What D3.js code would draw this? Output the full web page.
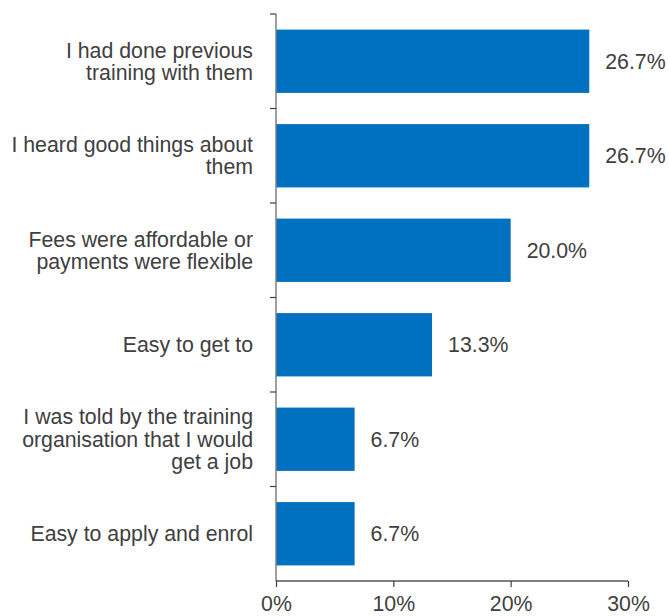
<!DOCTYPE html>
<html>
  <head>
    <meta charset="utf-8">
    <style>
      body { margin: 0; background: #fff; }
      text { font-family: "Liberation Sans", Arial, sans-serif; }
    </style>
  </head>
  <body>
    <div id="chart"></div>
    <script src="https://d3js.org/d3.v7.min.js"></script>
    <script>
      // data
      var categories = [
        ["I had done previous", "training with them"],
        ["I heard good things about", "them"],
        ["Fees were affordable or", "payments were flexible"],
        ["Easy to get to"],
        ["I was told by the training", "organisation that I would", "get a job"],
        ["Easy to apply and enrol"]
      ];
      var values = [26.7, 26.7, 20.0, 13.3, 6.7, 6.7];
      var tickValues = [0, 10, 20, 30];

      var margin = { top: 14, left: 276, right: 41, bottom: 35 };
      var width = 669, height = 616;
      var innerW = 628 - margin.left;
      var innerH = 581 - margin.top;

      var svg = d3.select("#chart").append("svg")
        .attr("width", width)
        .attr("height", height);

      var g = svg.append("g")
        .attr("transform", "translate(" + margin.left + "," + margin.top + ")");

      var x = d3.scaleLinear().domain([0, 30]).range([0, innerW]);
      var y = d3.scaleBand()
        .domain(d3.range(categories.length))
        .range([0, innerH])
        .paddingInner(0.33)
        .paddingOuter(0.165);

      // bars
      g.selectAll(".bar")
        .data(values)
        .enter()
        .append("rect")
          .attr("class", "bar")
          .attr("x", 0)
          .attr("y", function(d, i) { return y(i); })
          .attr("width", function(d) { return x(d); })
          .attr("height", y.bandwidth())
          .style("fill", "#0070C0");

      // value labels
      g.selectAll(".val")
        .data(values)
        .enter()
        .append("text")
          .attr("x", function(d) { return x(d) + 16; })
          .attr("y", function(d, i) { return y(i) + y.bandwidth() / 2; })
          .attr("dy", "0.35em")
          .style("font-size", "21.3px")
          .style("fill", "#404040")
          .text(function(d) { return d.toFixed(1) + "%"; });

      // y axis line + ticks at band edges
      var step = innerH / categories.length;
      g.append("line")
        .attr("x1", 0).attr("x2", 0)
        .attr("y1", 0).attr("y2", innerH)
        .style("stroke", "#7f7f7f")
        .style("stroke-width", 1.5);
      g.selectAll(".ytick")
        .data(d3.range(categories.length))
        .enter()
        .append("line")
          .attr("x1", -6).attr("x2", 0)
          .attr("y1", function(d) { return d * step; })
          .attr("y2", function(d) { return d * step; })
          .style("stroke", "#404040")
          .style("stroke-width", 1.2);

      // category labels
      var lineH = 22.4;
      g.selectAll(".cat")
        .data(categories)
        .enter()
        .append("text")
          .attr("text-anchor", "end")
          .style("font-size", "21.3px")
          .style("fill", "#404040")
          .each(function(lines, i) {
            var cy = y(i) + y.bandwidth() / 2;
            var t = d3.select(this);
            lines.forEach(function(s, k) {
              t.append("tspan")
                .attr("x", -23)
                .attr("y", cy + (k - (lines.length - 1) / 2) * lineH)
                .attr("dy", "0.35em")
                .text(s);
            });
          });

      // x axis
      var xAxis = g.append("g")
        .attr("transform", "translate(0," + innerH + ")")
        .call(d3.axisBottom(x)
          .tickValues(tickValues)
          .tickSize(6)
          .tickPadding(9)
          .tickFormat(function(d) { return d + "%"; }));
      xAxis.select(".domain").attr("d", "M0,0H" + innerW).style("stroke", "#000");
      xAxis.selectAll(".tick line").style("stroke", "#404040").style("stroke-width", 1.2);
      xAxis.selectAll(".tick text")
        .style("font-family", "Liberation Sans, Arial, sans-serif")
        .style("font-size", "21.3px")
        .style("fill", "#404040");
    </script>
  </body>
</html>
